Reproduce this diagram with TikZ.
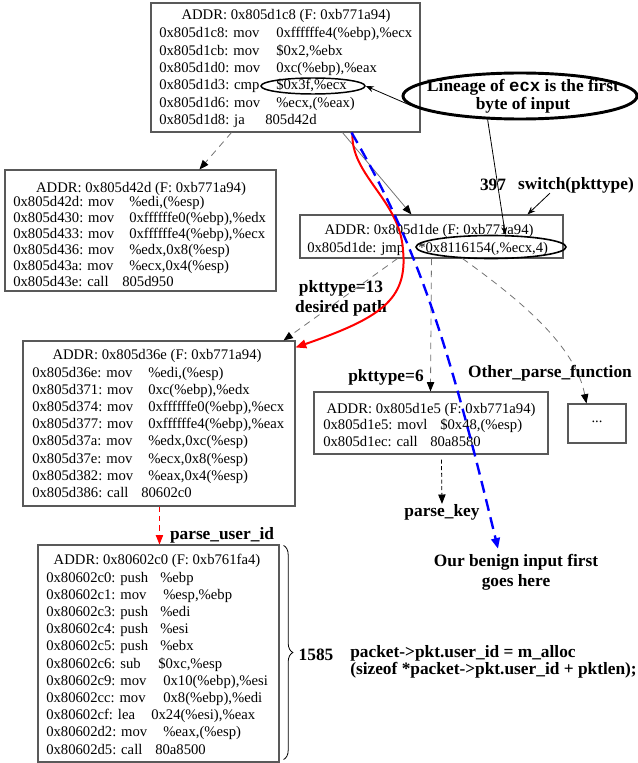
\documentclass[tikz,border=0pt]{standalone}
\usepackage{fontspec}
\setmainfont{Liberation Serif}
\setmonofont{Liberation Mono}
\usetikzlibrary{arrows.meta,shapes.geometric,decorations.pathreplacing,calc,fit}
\newcommand\asmln[6]{\node[asm] (#1a) at (#2,#3) {#4};\node[asm] (#1b) at (#5,#3) {#6};}
\begin{document}
\begin{tikzpicture}[x=0.75pt,y=-0.75pt,
  box/.style={draw=black!65,line width=0.8pt,inner sep=0pt},
  asm/.style={font=\fontsize{11}{13}\selectfont,inner sep=0pt,anchor=base west},
  hdr/.style={font=\fontsize{11}{13}\selectfont,inner sep=0pt,anchor=base},
  lbl/.style={font=\bfseries\fontsize{13}{15}\selectfont,inner sep=0pt,align=center},
  ell/.style={draw=black,ellipse,inner sep=0pt},
  gtip/.style={-{Triangle[length=7pt,width=5.5pt,color=black]}},
  gedge/.style={gtip,draw=black!55,line width=0.6pt,dash pattern=on 5pt off 4pt},
  gsolid/.style={gtip,draw=black!55,line width=0.6pt},
  kdash/.style={gtip,draw=black,line width=0.6pt,dash pattern=on 3pt off 2pt},
  rdash/.style={-{Triangle[length=7pt,width=5.5pt]},draw=red,line width=0.6pt,dash pattern=on 4pt off 3pt},
  redline/.style={-{Triangle[length=8pt,width=6.5pt]},draw=red,line width=1.5pt},
  blueline/.style={-{Triangle[length=8pt,width=6.5pt]},draw=blue,line width=1.8pt,dash pattern=on 9pt off 5pt},
  ann/.style={draw=black,line width=0.6pt,-{Stealth[length=6pt,width=4.5pt]}}
]
\useasboundingbox (0,0) rectangle (638,763);

% top box
\node[box,fit={(151,3)(420,132)}] (top) {};
\node[hdr] (toph) at (286,20) {ADDR: 0x805d1c8 (F: 0xb771a94)};
\asmln{t1}{159}{38}{0x805d1c8: mov}{276}{0xffffffe4(\%ebp),\%ecx}
\asmln{t2}{159}{55.3}{0x805d1cb: mov}{276}{\$0x2,\%ebx}
\asmln{t3}{159}{72.6}{0x805d1d0: mov}{276}{0xc(\%ebp),\%eax}
\asmln{t4}{159}{89.9}{0x805d1d3: cmp}{276}{\$0x3f,\%ecx}
\asmln{t5}{159}{107.2}{0x805d1d6: mov}{276}{\%ecx,(\%eax)}
\asmln{t6}{159}{124.5}{0x805d1d8: ja}{265}{805d42d}
\node[ell,line width=1.1pt,minimum width=104*0.75pt,minimum height=16*0.75pt] (e1) at (313,86) {};

% left box
\node[box,fit={(5,170)(276,291)}] (left) {};
\node[hdr] (lefth) at (141,192) {ADDR: 0x805d42d (F: 0xb771a94)};
\asmln{l1}{13}{206}{0x805d42d: mov}{129}{\%edi,(\%esp)}
\asmln{l2}{13}{222}{0x805d430: mov}{129}{0xffffffe0(\%ebp),\%edx}
\asmln{l3}{13}{238}{0x805d433: mov}{129}{0xffffffe4(\%ebp),\%ecx}
\asmln{l4}{13}{254}{0x805d436: mov}{129}{\%edx,0x8(\%esp)}
\asmln{l5}{13}{270}{0x805d43a: mov}{129}{\%ecx,0x4(\%esp)}
\asmln{l6}{13}{286}{0x805d43e: call}{122}{805d950}

% middle box
\node[box,fit={(300,215)(563,258)}] (mid) {};
\node[hdr] (midh) at (429,234) {ADDR: 0x805d1de (F: 0xb771a94)};
\asmln{m1}{307}{252}{0x805d1de: jmp}{418}{*0x8116154(,\%ecx,4)}
\node[ell,line width=1.2pt,minimum width=150*0.75pt,minimum height=23*0.75pt] (e2) at (491,247) {};

% box 3
\node[box,fit={(23,341)(295,506)}] (b3) {};
\node[hdr] (b3h) at (157,359) {ADDR: 0x805d36e (F: 0xb771a94)};
\asmln{c1}{32}{377}{0x805d36e: mov}{148}{\%edi,(\%esp)}
\asmln{c2}{32}{394.2}{0x805d371: mov}{148}{0xc(\%ebp),\%edx}
\asmln{c3}{32}{411.4}{0x805d374: mov}{148}{0xffffffe0(\%ebp),\%ecx}
\asmln{c4}{32}{428.6}{0x805d377: mov}{148}{0xffffffe4(\%ebp),\%eax}
\asmln{c5}{32}{445.8}{0x805d37a: mov}{148}{\%edx,0xc(\%esp)}
\asmln{c6}{32}{463}{0x805d37e: mov}{148}{\%ecx,0x8(\%esp)}
\asmln{c7}{32}{480.2}{0x805d382: mov}{148}{\%eax,0x4(\%esp)}
\asmln{c8}{32}{497.4}{0x805d386: call}{141}{80602c0}

% box 4
\node[box,fit={(314,392)(548,454)}] (b4) {};
\node[hdr] (b4h) at (431,413) {ADDR: 0x805d1e5 (F: 0xb771a94)};
\asmln{d1}{323}{429}{0x805d1e5: movl}{440}{\$0x48,(\%esp)}
\asmln{d2}{323}{446}{0x805d1ec: call}{430}{80a8580}

% box 5
\node[box,fit={(568,404)(626,443)}] (b5) {};
\node[font=\fontsize{11}{13}\selectfont,inner sep=0pt] (b5t) at (597,422) {...};

% bottom box
\node[box,fit={(38,545)(279,762)}] (bot) {};
\node[hdr] (both) at (157,564) {ADDR: 0x80602c0 (F: 0xb761fa4)};
\asmln{f1}{46}{582}{0x80602c0: push}{160}{\%ebp}
\asmln{f2}{46}{599.2}{0x80602c1: mov}{163}{\%esp,\%ebp}
\asmln{f3}{46}{616.4}{0x80602c3: push}{160}{\%edi}
\asmln{f4}{46}{633.6}{0x80602c4: push}{160}{\%esi}
\asmln{f5}{46}{650.8}{0x80602c5: push}{160}{\%ebx}
\asmln{f6}{46}{668}{0x80602c6: sub}{158}{\$0xc,\%esp}
\asmln{f7}{46}{685.2}{0x80602c9: mov}{163}{0x10(\%ebp),\%esi}
\asmln{f8}{46}{702.4}{0x80602cc: mov}{163}{0x8(\%ebp),\%edi}
\asmln{f9}{46}{719.6}{0x80602cf: lea}{151}{0x24(\%esi),\%eax}
\asmln{f10}{46}{736.8}{0x80602d2: mov}{163}{\%eax,(\%esp)}
\asmln{f11}{46}{754}{0x80602d5: call}{155}{80a8500}

% callout
\node[ell,line width=2.2pt,minimum width=234*0.75pt,minimum height=46*0.75pt] (lin) at (520,96) {};
\node[lbl,font=\bfseries\fontsize{13}{13.5}\selectfont] (lint) at (523,96) {Lineage of \texttt{\bfseries ecx} is the first\\byte of input};

% labels
\node[lbl] (n397) at (493,185) {397};
\node[lbl] (sw) at (576,185) {switch(pkttype)};
\node[lbl] (p13) at (341,298) {pkttype=13\\desired path};
\node[lbl] (p6) at (386,377) {pkttype=6};
\node[lbl] (opf) at (550,373) {Other\_parse\_function};
\node[lbl] (pk) at (442,512) {parse\_key};
\node[lbl] (pui) at (222,535) {parse\_user\_id};
\node[lbl] (ben) at (516,572) {Our benign input first\\goes here};
\node[lbl] (n1585) at (316,655) {1585};
\node[lbl,align=left,anchor=west,font=\bfseries\fontsize{13}{11.25}\selectfont] (pkt) at (350,662) {packet->pkt.user\_id = m\_alloc\\(sizeof *packet->pkt.user\_id + pktlen);};

% graph edges
\draw[gedge] ($(top.south west)+(81,0)$) -- ($(left.north west)+(195,0)$);
\draw[gsolid] ($(top.south west)+(192,0)$) -- ($(mid.north west)+(112,0)$);
\draw[gedge] ($(mid.south west)+(98,0)$) -- ($(b3.north east)+(-12,0)$);
\draw[gedge] ($(mid.south west)+(132,0)$) -- ($(b4.north west)+(117,0)$);
\draw[gedge] ($(mid.south west)+(163,0)$) .. controls (520,300) and (575,345) .. ($(b5.north west)+(19,0)$);
\draw[rdash] ($(b3.south west)+(137,0)$) -- ($(bot.north west)+(122,0)$);
\draw[kdash] ($(b4.south west)+(128,5)$) -- (pk.north);

% annotation arrows
\draw[ann] (lin.185) -- (e1.east);
\draw[ann] (lin.216) -- (e2.40);
\draw[ann] ($(sw.south west)+(32,0)$) -- ($(mid.north west)+(228,0)$);

% paths
\draw[redline] ($(top.south west)+(202,0)$) .. controls (350,175) and (400,200) .. (403,250) .. controls (408,300) and (380,318) .. ($(b3.north east)+(0,7)$);
\draw[blueline] ($(top.south west)+(201,0)$) .. controls (420,250) and (450,350) .. ($(ben.north)+(-18,-5)$);

% brace
\draw[decorate,decoration={brace,amplitude=7pt},line width=0.6pt] ($(bot.north east)+(4,1)$) -- ($(bot.south east)+(4,-3)$);
\end{tikzpicture}
\end{document}
